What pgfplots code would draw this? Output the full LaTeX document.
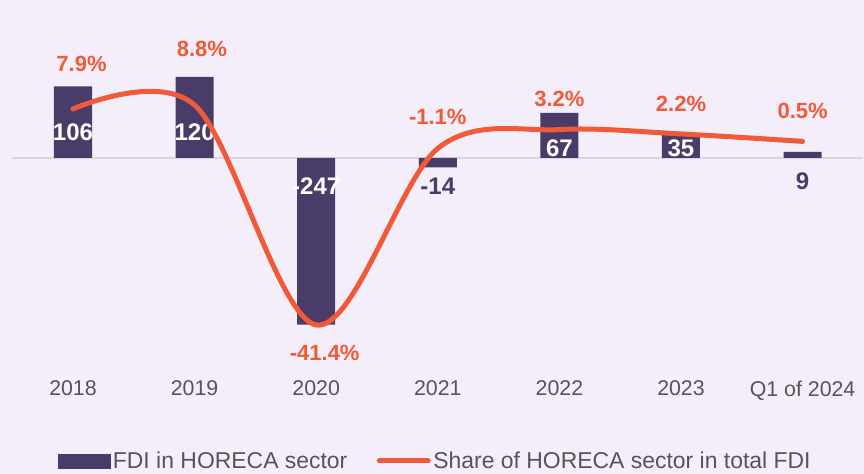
\documentclass[border=0pt]{standalone}
\usepackage{pgfplots}
\pgfplotsset{compat=1.18}
\usepackage{fontspec}
\setmainfont{Liberation Sans}
\definecolor{bgc}{HTML}{F4EEFA}
\definecolor{barc}{HTML}{4A3C68}
\definecolor{linec}{HTML}{F05A38}
\definecolor{tickc}{HTML}{555555}
\definecolor{zeroc}{HTML}{D9D6DC}
\begin{document}
\begin{tikzpicture}
\path[use as bounding box, fill=bgc] (0pt,0pt) rectangle (648pt,355.5pt);
\begin{axis}[
  at={(9.15pt,74.25pt)}, anchor=south west,
  scale only axis, width=638.4pt, height=251.25pt,
  xmin=-0.5, xmax=6.5, ymin=-321.5, ymax=174.8,
  axis line style={draw=none},
  ytick=\empty,
  xtick={0,1,2,3,4,5,6},
  xticklabels={2018,2019,2020,2021,2022,2023,Q1 of 2024},
  major tick length=0pt,
  xticklabel style={font=\fontsize{16}{18}\selectfont, text=tickc, yshift=-1pt},
  extra y ticks={0}, extra y tick labels={},
  extra y tick style={grid=major, major grid style={zeroc, line width=1.5pt}},
  clip=false,
]
\addplot[ybar, bar width=28.5pt, fill=barc, draw=none] coordinates {
 (0,106) (1,120) (2,-247) (3,-14) (4,67) (5,35) (6,9)};
\begin{scope}[every node/.style={font=\bfseries\fontsize{18}{20}\selectfont}]
\node[text=white] at (axis cs:0,38.5) {106};
\node[text=white] at (axis cs:1,38.5) {120};
\node[text=white] at (axis cs:2,-41.5) {-247};
\node[text=barc] at (axis cs:3,-42.5) {-14};
\node[text=white] at (axis cs:4,14.8) {67};
\node[text=white] at (axis cs:5,14.8) {35};
\node[text=barc] at (axis cs:6,-34) {9};
\end{scope}
\begin{scope}[every node/.style={font=\bfseries\fontsize{16.5}{19}\selectfont, text=linec}]
\node at (axis cs:0.07,140) {7.9\%};
\node at (axis cs:1.06,161.5) {8.8\%};
\node at (axis cs:2.07,-288.9) {-41.4\%};
\node at (axis cs:3,60.7) {-1.1\%};
\node at (axis cs:4,87.4) {3.2\%};
\node at (axis cs:5,80) {2.2\%};
\node at (axis cs:6,69.6) {0.5\%};
\end{scope}
\end{axis}
\begin{axis}[
  at={(9.15pt,74.25pt)}, anchor=south west,
  scale only axis, width=638.4pt, height=251.25pt,
  xmin=-0.5, xmax=6.5, ymin=-52.83, ymax=23.65,
  hide axis, clip=false,
  legend columns=2,
  legend style={at={(0.4973,-0.2567)}, anchor=center, draw=none, fill=none,
    font=\fontsize{17.2}{19}\selectfont, text=tickc,
    /tikz/every odd column/.append style={column sep=0pt},
    /tikz/every even column/.append style={column sep=20pt}},
]
\addlegendimage{legend image code/.code={\fill[barc] (0pt,-5.25pt) rectangle (39pt,5.25pt);}}
\addlegendentry{FDI in HORECA sector}
\addplot[linec, line width=3.75pt, line cap=round, smooth, tension=0.55,
  legend image code/.code={\draw[linec, line width=3.75pt, line cap=round] (1.9pt,0pt) -- (38.6pt,0pt);}]
  coordinates {(0,7.9) (1,8.8) (2,-41.4) (3,-1.1) (4,3.2) (5,2.2) (6,0.5)};
\addlegendentry{Share of HORECA sector in total FDI}
\end{axis}
\end{tikzpicture}
\end{document}
